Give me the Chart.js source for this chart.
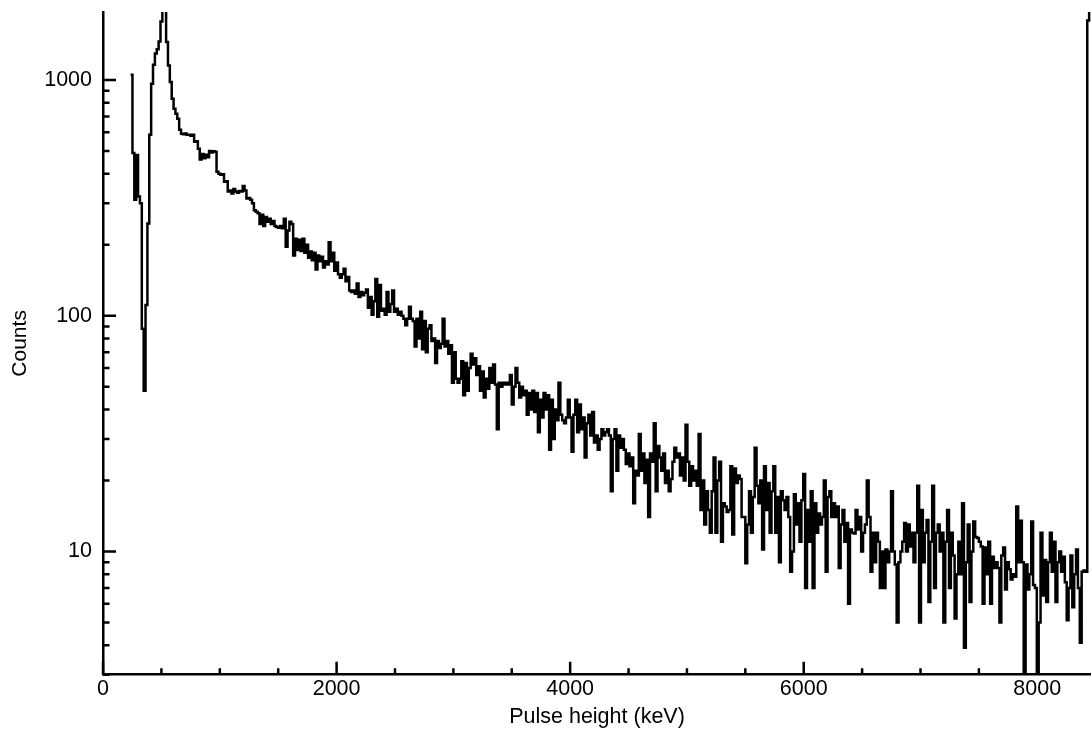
<!DOCTYPE html>
<html>
<head>
<meta charset="utf-8">
<script src="https://cdn.jsdelivr.net/npm/chart.js@4.4.0/dist/chart.umd.min.js"></script>
<style>
  html, body { margin: 0; padding: 0; background: #fff; }
  #wrap { width: 1091px; height: 731px; }
</style>
</head>
<body>
<div id="wrap"><canvas id="spectrum"></canvas></div>
<script>
// bins of 16 keV, first edge at 236 keV
var binStart = 236;
var binWidth = 16;
var startCount = 1053;
var counts = [
  490, 310, 480, 320, 300, 88, 48, 111, 246, 586,
  964, 1161, 1293, 1350, 1454, 1769, 2000, 2000, 1450, 1150,
  980, 833, 755, 719, 685, 615, 591, 588, 592, 586,
  586, 580, 586, 547, 550, 511, 460, 485, 465, 482,
  470, 500, 492, 498, 496, 408, 400, 396, 398, 370,
  372, 336, 340, 330, 345, 336, 332, 338, 336, 355,
  340, 314, 316, 310, 300, 280, 276, 272, 245, 268,
  240, 262, 250, 258, 245, 252, 240, 238, 236, 240,
  235, 258, 196, 230, 250, 245, 180, 212, 190, 210,
  188, 212, 185, 200, 176, 187, 172, 185, 157, 180,
  170, 178, 160, 170, 165, 205, 170, 185, 155, 168,
  150, 145, 150, 158, 140, 146, 128, 126, 128, 124,
  137, 120, 126, 122, 125, 129, 108, 120, 101, 115,
  143, 99, 135, 105, 107, 101, 126, 104, 112, 128,
  104, 107, 101, 104, 100, 97, 91, 97, 109, 97,
  95, 74, 97, 80, 104, 72, 95, 70, 88, 91,
  78, 80, 63, 78, 73, 76, 97, 74, 78, 69,
  75, 52, 70, 54, 52, 54, 64, 46, 63, 48,
  60, 69, 62, 66, 56, 61, 48, 58, 45, 54,
  49, 60, 52, 62, 51, 33, 52, 50, 52, 51,
  52, 51, 56, 42, 50, 60, 52, 45, 50, 46,
  48, 38, 47, 40, 48, 39, 47, 32, 44, 37,
  47, 40, 46, 27, 44, 30, 40, 36, 52, 38,
  36, 35, 37, 44, 37, 26.5, 38, 44, 32, 42,
  33, 37, 25, 35, 38, 31, 39, 29, 31, 27,
  30, 33, 31, 32, 33, 31, 18, 30, 33, 22,
  31, 27.5, 30, 27, 23.5, 26, 23, 25, 16, 22,
  21, 31.5, 22, 26, 19.5, 24.5, 14, 26, 24, 35,
  18, 28, 25, 22, 26, 19.5, 22, 18, 20.3, 24,
  27.5, 25, 26, 21, 25, 20, 34.5, 24, 19, 23,
  20, 22, 19, 31.5, 15, 20, 13, 18, 15, 12,
  18, 25, 12, 20, 24, 11, 16, 15.5, 14.7, 15,
  23, 11.8, 22.5, 19.5, 21, 20.3, 14, 14, 8.9, 13,
  18, 12, 17, 27.5, 19, 16, 20, 10.2, 23, 15,
  19.5, 12, 18, 23, 12, 17, 9, 18, 16.5, 15,
  17, 14, 8.2, 10, 17.5, 13, 16, 11, 16.5, 21.3,
  7, 15, 11, 18, 7, 16, 12, 14.5, 13, 14,
  20, 8.2, 17, 18, 14, 16, 14, 15.5, 8.5, 13,
  15, 11, 13.2, 6, 12.4, 12, 11.9, 15, 12.4, 14,
  10, 12, 13, 20, 14, 8.2, 12, 9, 12, 11,
  7, 10, 7, 10.2, 9, 10, 18, 10, 8.8, 5,
  9, 10, 11, 13.2, 10, 13, 10.5, 12, 9, 12,
  19, 5, 15, 9, 12, 13.6, 6.1, 11, 19, 7,
  12, 13, 10, 12, 5, 11, 15, 7, 12, 9.6,
  5.2, 8, 11, 8, 16, 3.9, 9, 13, 6.1, 10,
  13.4, 11.5, 11.4, 11, 10.5, 6, 10.4, 8, 11, 6,
  9.5, 8.5, 9, 8.5, 5, 9.6, 10.4, 6.9, 9, 8.4,
  7.6, 8, 7.8, 15.5, 9, 13.5, 9, 1, 8.8, 6.9,
  8, 13.4, 7.2, 7, 1, 5, 12, 6.5, 9.2, 6.1,
  9, 12, 8.2, 11, 6.1, 9, 10, 8.2, 9.5, 7.4,
  5.1, 7, 9.6, 5.8, 8, 10.2, 7, 4.1, 8.2, 8.3,
  8.2, 1786, 2500
];

// ticks
var xMajor = [0, 2000, 4000, 6000, 8000];
var xMinor = [500, 1000, 1500, 2500, 3000, 3500, 4500, 5000, 5500, 6500, 7000, 7500];
var yMajor = [10, 100, 1000];
var yMinor = [3, 4, 5, 6, 7, 8, 9, 20, 30, 40, 50, 60, 70, 80, 90,
              200, 300, 400, 500, 600, 700, 800, 900];

var points = [{ x: binStart, y: startCount }];
for (var i = 0; i < counts.length; i++) {
  points.push({ x: binStart + binWidth * (i + 1), y: counts[i] });
}

// tick marks pointing into the plot
var inwardTicks = {
  id: 'inwardTicks',
  afterDatasetsDraw: function(chart) {
    var ctx = chart.ctx;
    var area = chart.chartArea;
    var xs = chart.scales.x;
    var ys = chart.scales.y;
    ctx.save();
    ctx.strokeStyle = '#000';
    ctx.lineWidth = 2.5;
    ctx.beginPath();
    yMajor.forEach(function(v) {
      var py = ys.getPixelForValue(v);
      ctx.moveTo(area.left, py);
      ctx.lineTo(area.left + 13, py);
    });
    yMinor.forEach(function(v) {
      var py = ys.getPixelForValue(v);
      ctx.moveTo(area.left, py);
      ctx.lineTo(area.left + 6.5, py);
    });
    xMajor.forEach(function(v) {
      var px = xs.getPixelForValue(v);
      ctx.moveTo(px, area.bottom);
      ctx.lineTo(px, area.bottom - 13);
    });
    xMinor.forEach(function(v) {
      var px = xs.getPixelForValue(v);
      ctx.moveTo(px, area.bottom);
      ctx.lineTo(px, area.bottom - 6.5);
    });
    ctx.stroke();
    ctx.restore();
  }
};

var family = '"Liberation Sans", Arial, sans-serif';

new Chart(document.getElementById('spectrum'), {
  type: 'line',
  data: {
    datasets: [{
      data: points,
      stepped: 'before',
      borderColor: '#000',
      borderWidth: 2.5,
      pointRadius: 0,
      fill: false
    }]
  },
  options: {
    responsive: true,
    maintainAspectRatio: false,
    animation: false,
    layout: { padding: { left: 4, top: 0, right: 0, bottom: 1 } },
    plugins: { legend: { display: false }, tooltip: { enabled: false } },
    scales: {
      x: {
        type: 'linear',
        min: 0,
        max: 8460,
        afterBuildTicks: function(scale) {
          scale.ticks = xMajor.map(function(v) { return { value: v }; });
        },
        ticks: { color: '#000', font: { family: family, size: 21.5, lineHeight: 1 },
                 padding: 4, maxRotation: 0,
                 callback: function(v) { return String(v); } },
        grid: { display: false, drawTicks: false },
        border: { display: true, color: '#000', width: 2.5 },
        title: { display: true, text: 'Pulse height (keV)', color: '#000',
                 font: { family: family, size: 21.5 }, padding: { top: 0, bottom: 0 } }
      },
      y: {
        type: 'logarithmic',
        min: 3,
        max: 1940,
        afterBuildTicks: function(scale) {
          scale.ticks = yMajor.map(function(v) { return { value: v }; });
        },
        ticks: { color: '#000', font: { family: family, size: 21.5, lineHeight: 0.1 },
                 padding: 11,
                 callback: function(v) { return String(v); } },
        grid: { display: false, drawTicks: false },
        border: { display: true, color: '#000', width: 2.5 },
        title: { display: true, text: 'Counts', color: '#000',
                 font: { family: family, size: 21 }, padding: { top: 4, bottom: 0 } }
      }
    }
  },
  plugins: [inwardTicks]
});
</script>
</body>
</html>
